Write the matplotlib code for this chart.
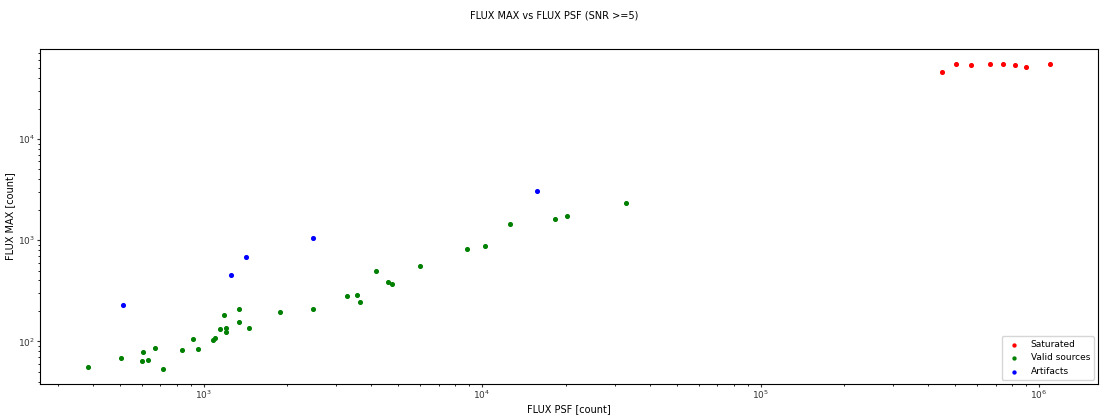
import matplotlib
matplotlib.use("Agg")
import matplotlib.pyplot as plt

# saturated sources
sat_psf = [448000, 502000, 571000, 665000, 740000, 817000, 895000, 1094000]
sat_max = [46400, 54800, 54000, 54800, 54800, 54400, 51200, 54800]

# valid sources
valid_psf = [385, 506, 606, 600, 631, 669, 715, 839, 918, 957, 1083, 1101,
             1145, 1203, 1203, 1187, 1340, 1340, 1459, 1874, 2469, 3287,
             3551, 3640, 4156, 4611, 4754, 5990, 8851, 10250, 12640, 18280,
             20180, 32860]
valid_max = [55.3, 68.8, 77.8, 64.3, 65.3, 86.5, 53.5, 82, 104.7, 84.5, 103,
             108.5, 133, 136, 123.6, 182, 207, 155, 135, 194, 209, 283, 287,
             245, 497, 384, 372, 560, 815, 884, 1449, 1636, 1740, 2304]

# artifacts
art_psf = [512, 1250, 1423, 2481, 15740]
art_max = [228.5, 453, 683, 1054, 3076]

plt.rcParams["font.size"] = 7

fig, ax = plt.subplots(figsize=(11.08, 4.17), dpi=100)
fig.subplots_adjust(left=0.0361, right=0.991, bottom=0.079, top=0.8825)

ax.scatter(sat_psf, sat_max, s=7, color="r", label="Saturated")
ax.scatter(valid_psf, valid_max, s=7, color="g", label="Valid sources")
ax.scatter(art_psf, art_max, s=7, color="b", label="Artifacts")

ax.set_xscale("log")
ax.set_yscale("log")
ax.tick_params(which="major", length=2, pad=1.5, labelsize=6.5, colors="#333333")
ax.tick_params(which="minor", length=1.2)
ax.set_xlabel("FLUX PSF [count]", labelpad=2)
ax.set_ylabel("FLUX MAX [count]", labelpad=2)
ax.legend(loc="lower right", fontsize=6.5, markerscale=0.8)
fig.suptitle("FLUX MAX vs FLUX PSF (SNR >=5)", y=0.975, fontsize=7)

fig.savefig("out.png", dpi=100)
